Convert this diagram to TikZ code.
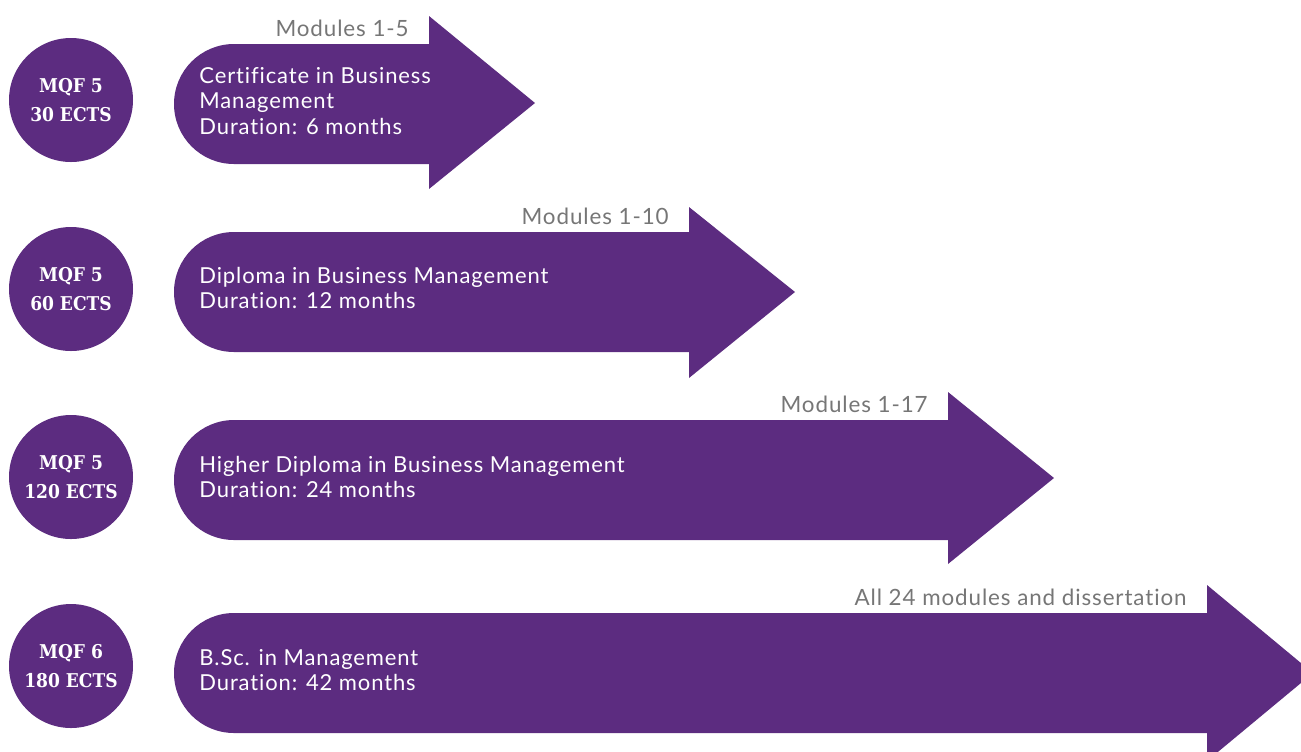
\documentclass[tikz,border=0pt]{standalone}
\usepackage{fontspec}
\newfontfamily\badgefont{DejaVu Serif Condensed}
\newfontfamily\progfont[LetterSpace=4, Ligatures={NoCommon,NoRare,NoContextual}]{Lato}
\definecolor{mqfpurple}{RGB}{92,44,128}
\definecolor{modgray}{RGB}{118,118,118}
\tikzset{
  badge/.style    = {circle, fill=mqfpurple, minimum size=62pt, inner sep=0pt,
                     text=white, align=center, font=\badgefont\bfseries\fontsize{9.5}{14.5}\selectfont},
  arrowbody/.style= {fill=mqfpurple, draw=none},
  progtext/.style = {anchor=west, inner sep=0pt, align=left, text=white,
                     font=\progfont\fontsize{11}{12.75}\selectfont},
  modlabel/.style = {anchor=base east, inner sep=0pt, text=modgray,
                     font=\progfont\fontsize{11.2}{12}\selectfont}
}
\begin{document}
\begin{tikzpicture}[x=0.5pt, y=0.5pt]
    \useasboundingbox (0,0) rectangle (1301,-751);
    \clip (0,0) rectangle (1301,-751);

    % level badges
    \node [badge] (mqf1) at (71,-100) {MQF 5\\30 ECTS};
    \node [badge] (mqf2) at (71,-289) {MQF 5\\60 ECTS};
    \node [badge] (mqf3) at (71,-477) {MQF 5\\120 ECTS};
    \node [badge] (mqf4) at (71,-666) {MQF 6\\180 ECTS};

    % programme arrows
    \fill [arrowbody] (234,-44)  -- (429,-44)  -- (429,-16)  -- (535,-103)
      -- (429,-189) -- (429,-164) -- (234,-164) arc [start angle=270, end angle=90, radius=30pt] -- cycle;
    \fill [arrowbody] (234,-232) -- (689,-232) -- (689,-207) -- (795,-292)
      -- (689,-378) -- (689,-352) -- (234,-352) arc [start angle=270, end angle=90, radius=30pt] -- cycle;
    \fill [arrowbody] (234,-420) -- (948,-420) -- (948,-392) -- (1054,-478)
      -- (948,-564) -- (948,-540) -- (234,-540) arc [start angle=270, end angle=90, radius=30pt] -- cycle;
    \fill [arrowbody] (234,-613) -- (1207,-613) -- (1207,-585) -- (1313,-673)
      -- (1207,-761) -- (1207,-733) -- (234,-733) arc [start angle=270, end angle=90, radius=30pt] -- cycle;

    % programme texts
    \node [progtext] (prog1) at (199,-101) {Certificate in Business\\Management\\Duration: 6 months};
    \node [progtext] (prog2) at (199,-288) {Diploma in Business Management\\Duration: 12 months};
    \node [progtext] (prog3) at (199,-477) {Higher Diploma in Business Management\\Duration: 24 months};
    \node [progtext] (prog4) at (199,-670) {B.Sc. in Management\\Duration: 42 months};

    % module labels
    \node [modlabel] (mods1) at (409,-36)   {Modules 1-5};
    \node [modlabel] (mods2) at (669,-224)  {Modules 1-10};
    \node [modlabel] (mods3) at (928,-412)  {Modules 1-17};
    \node [modlabel] (mods4) at (1187,-605) {All 24 modules and dissertation};
\end{tikzpicture}
\end{document}
